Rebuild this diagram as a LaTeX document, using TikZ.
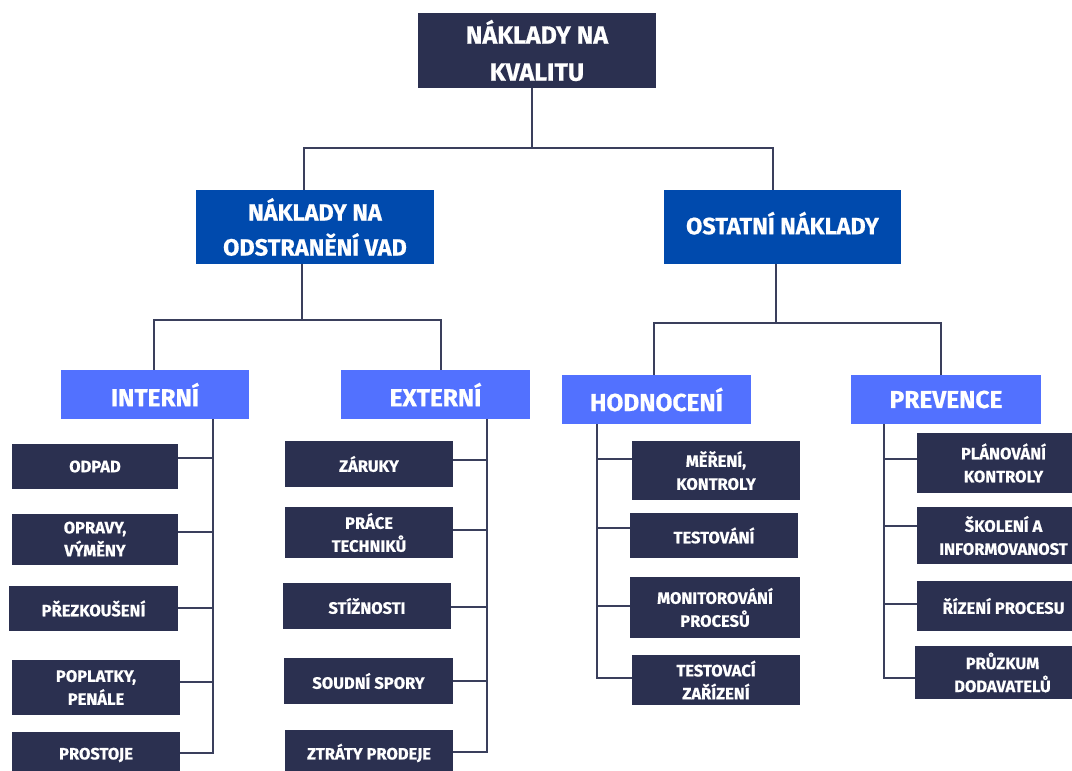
\documentclass[tikz,border=0pt]{standalone}
\usepackage{fontspec}
\setmainfont{Fira Sans}[BoldFeatures={FakeBold=0.6}]
\definecolor{navyc}{HTML}{2B3050}
\definecolor{midc}{HTML}{004AAD}
\definecolor{lightc}{HTML}{5271FF}
\definecolor{linec}{HTML}{3A3F5C}
\begin{document}
\begin{tikzpicture}[x=1pt,y=-1pt,
  box/.style={rectangle, inner sep=0pt, align=center, text=white},
  topbox/.style={box, fill=navyc, font=\bfseries\fontsize{25}{37}\selectfont},
  midbox/.style={box, fill=midc, font=\bfseries\fontsize{23.5}{35}\selectfont},
  catbox/.style={box, fill=lightc, font=\bfseries\fontsize{24.5}{30}\selectfont},
  leaf/.style={box, fill=navyc, font=\bfseries\fontsize{16.5}{23}\selectfont},
  link/.style={draw=linec, line width=1.8pt}]
\useasboundingbox (0,0) rectangle (1072,771);
\fill[white] (0,0) rectangle (1072,771);

% top levels
\node[topbox, minimum width=238, minimum height=75] (top) at (537,50.5) {NÁKLADY NA\\KVALITU};
\node[midbox, minimum width=238, minimum height=74] (odv) at (315,227) {NÁKLADY NA\\ODSTRANĚNÍ VAD};
\node[midbox, minimum width=237, minimum height=74, text depth=0pt] (ost) at (782.5,227) {\raisebox{8pt}{OSTATNÍ NÁKLADY}};
\node[catbox, minimum width=188, minimum height=49] (intern) at (155,394.5) {INTERNÍ};
\node[catbox, minimum width=189, minimum height=49] (extern) at (435.5,394.5) {EXTERNÍ};
\node[catbox, minimum width=189, minimum height=49] (hodn) at (656.5,399.5) {HODNOCENÍ};
\node[catbox, minimum width=190, minimum height=49] (prev) at (946,399.5) {PREVENCE};

% interni leaves
\node[leaf, minimum width=166, minimum height=45] (odpad) at (95,466.5) {ODPAD};
\node[leaf, minimum width=166, minimum height=51] (opravy) at (95,539) {OPRAVY,\\VÝMĚNY};
\node[leaf, minimum width=169, minimum height=45] (prezk) at (93.5,608.5) {PŘEZKOUŠENÍ};
\node[leaf, minimum width=168, minimum height=55] (poplatky) at (96,687.5) {POPLATKY,\\PENÁLE};
\node[leaf, minimum width=168, minimum height=46] (prostoje) at (96,755) {PROSTOJE};

% externi leaves
\node[leaf, minimum width=168, minimum height=46] (zaruky) at (369,464) {ZÁRUKY};
\node[leaf, minimum width=168, minimum height=51] (prace) at (369,532.5) {PRÁCE\\TECHNIKŮ};
\node[leaf, minimum width=168, minimum height=46] (stiz) at (367,606) {STÍŽNOSTI};
\node[leaf, minimum width=169, minimum height=46] (soudni) at (368.5,681) {SOUDNÍ SPORY};
\node[leaf, minimum width=168, minimum height=46] (ztraty) at (369,753) {ZTRÁTY PRODEJE};

% hodnoceni leaves
\node[leaf, minimum width=168, minimum height=59] (mereni) at (716,470.5) {MĚŘENÍ,\\KONTROLY};
\node[leaf, minimum width=168, minimum height=45] (testovani) at (714,535.5) {TESTOVÁNÍ};
\node[leaf, minimum width=170, minimum height=61] (monitor) at (715,607.5) {MONITOROVÁNÍ\\PROCESŮ};
\node[leaf, minimum width=168, minimum height=50] (testzar) at (716,680) {TESTOVACÍ\\ZAŘÍZENÍ};

% prevence leaves
\node[leaf, minimum width=173, minimum height=60] (planovani) at (1003.5,463) {PLÁNOVÁNÍ\\KONTROLY};
\node[leaf, minimum width=173, minimum height=57] (skoleni) at (1003.5,535.5) {ŠKOLENÍ A\\INFORMOVANOST};
\node[leaf, minimum width=173, minimum height=50] (rizeni) at (1003.5,606) {ŘÍZENÍ PROCESU};
\node[leaf, minimum width=175, minimum height=53] (pruzkum) at (1002.5,672.5) {PRŮZKUM\\DODAVATELŮ};

% connectors level 1-2
\draw[link] (top.south -| 532,0) -- (532,148);
\draw[link] (odv.north -| 304,0) |- (773,148) -- (ost.north -| 773,0);
% level 2-3
\draw[link] (odv.south -| 302,0) -- (302,320);
\draw[link] (intern.north -| 154,0) |- (441,320) -- (extern.north -| 441,0);
\draw[link] (ost.south -| 776,0) -- (776,323);
\draw[link] (hodn.north -| 654,0) |- (941,323) -- (prev.north -| 941,0);

% interni trunk
\draw[link] (intern.south -| 213,0) |- (prostoje.east |- 0,753);
\draw[link] (odpad.east |- 0,458) -- (213,458);
\draw[link] (opravy.east |- 0,532) -- (213,532);
\draw[link] (prezk.east |- 0,608) -- (213,608);
\draw[link] (poplatky.east |- 0,682) -- (213,682);

% externi trunk
\draw[link] (extern.south -| 487,0) |- (ztraty.east |- 0,752);
\draw[link] (zaruky.east |- 0,460) -- (487,460);
\draw[link] (prace.east |- 0,530) -- (487,530);
\draw[link] (stiz.east |- 0,607) -- (487,607);
\draw[link] (soudni.east |- 0,681) -- (487,681);

% hodnoceni trunk
\draw[link] (hodn.south -| 597,0) |- (testzar.west |- 0,678);
\draw[link] (mereni.west |- 0,459) -- (597,459);
\draw[link] (testovani.west |- 0,528) -- (597,528);
\draw[link] (monitor.west |- 0,606) -- (597,606);

% prevence trunk
\draw[link] (prev.south -| 884,0) |- (pruzkum.west |- 0,678);
\draw[link] (planovani.west |- 0,459) -- (884,459);
\draw[link] (skoleni.west |- 0,526) -- (884,526);
\draw[link] (rizeni.west |- 0,604) -- (884,604);
\end{tikzpicture}
\end{document}
